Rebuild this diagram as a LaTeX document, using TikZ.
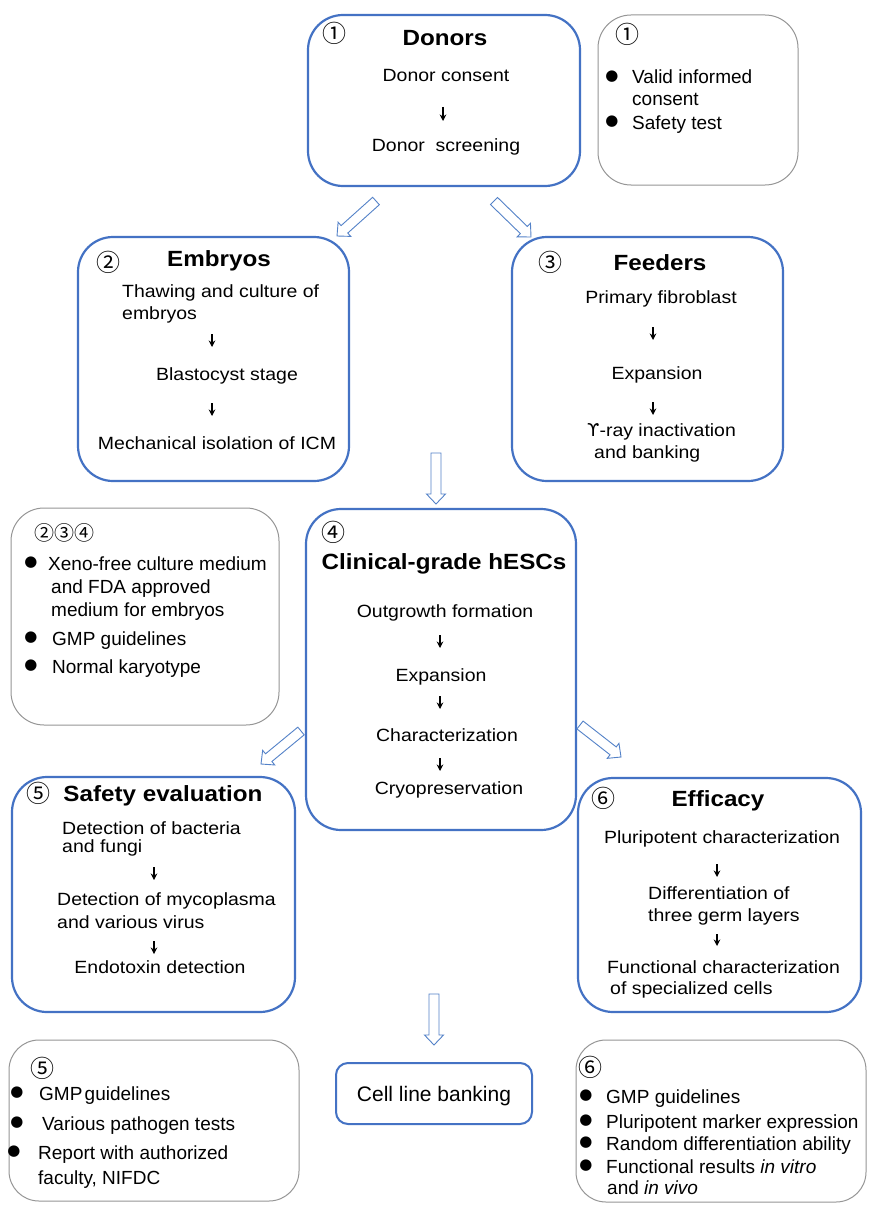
\documentclass[tikz,border=0pt]{standalone}
\usepackage{fontspec}
\setmainfont{Liberation Sans}
\newfontfamily\bx{Liberation Sans}[FakeStretch=1.1]
\newfontfamily\dv{DejaVu Sans}
\newfontfamily\cjk{Noto Sans CJK JP}
\usetikzlibrary{calc,arrows.meta}
\definecolor{boxblue}{RGB}{68,114,196}
\definecolor{arrblue}{RGB}{84,130,200}
\definecolor{notegray}{RGB}{150,150,150}
\tikzset{
 mainbox/.style={draw=boxblue, line width=2.2pt, rounded corners=35pt, inner sep=0pt},
 notebox/.style={draw=notegray, line width=1pt, rounded corners=33pt, inner sep=0pt},
 bankbox/.style={draw=boxblue, line width=2pt, rounded corners=12pt, inner sep=0pt},
 body/.style={font=\bx\fontsize{17.7}{20}\selectfont, inner sep=0pt},
 ttl/.style={font=\bx\bfseries\fontsize{22}{26}\selectfont, inner sep=0pt},
 note/.style={font=\fontsize{19}{22}\selectfont, inner sep=0pt},
 num/.style={font=\cjk\fontsize{24}{24}\selectfont, inner sep=0pt},
 bul/.style={font=\dv\fontsize{15}{15}\selectfont, inner sep=0pt},
 sarr/.style={line width=1.4pt, -{Stealth[length=6.5pt,width=6.5pt]}},
 hollow/.style={draw=arrblue, line width=0.9pt, fill=white, line join=miter},
}
\newcommand\harrow[3]{%
  \coordinate (#3h) at ($(#2)!10pt!(#1)$);
  \draw[hollow] ($(#1)!5pt!90:(#2)$) -- ($(#3h)!5pt!90:(#2)$) -- ($(#3h)!9.5pt!90:(#2)$)
    -- (#2) -- ($(#3h)!9.5pt!-90:(#2)$) -- ($(#3h)!5pt!-90:(#2)$) -- ($(#1)!5pt!-90:(#2)$) -- cycle;
}
\begin{document}
\begin{tikzpicture}[x=1pt,y=-1pt]
\useasboundingbox (0,0) rectangle (869,1212);
\fill[white] (0,0) rectangle (869,1212);

% boxes
\node[mainbox, minimum width=272pt, minimum height=171pt] (donors) at (444,100.5) {};
\node[notebox, minimum width=200pt, minimum height=170pt] (note1) at (698,100) {};
\node[mainbox, minimum width=271pt, minimum height=244pt] (embryos) at (213.5,359) {};
\node[mainbox, minimum width=271pt, minimum height=244pt] (feeders) at (647.5,359) {};
\node[notebox, minimum width=268pt, minimum height=217pt] (note234) at (145,616.5) {};
\node[mainbox, minimum width=270pt, minimum height=321pt] (hescs) at (441,669.5) {};
\node[mainbox, minimum width=283pt, minimum height=235pt] (safety) at (153.5,894.5) {};
\node[mainbox, minimum width=283pt, minimum height=234pt] (efficacy) at (719.5,895) {};
\node[notebox, rounded corners=30pt, minimum width=290pt, minimum height=161pt] (note5) at (154,1120.5) {};
\node[bankbox, minimum width=196pt, minimum height=61pt] (bank) at (434,1093.5) {};
\node[notebox, rounded corners=30pt, minimum width=290pt, minimum height=162pt] (note6) at (721,1121) {};

% Donors
\node[num] (n1) at (334,33) {①};
\node[ttl, anchor=base] (tdon) at (445,46) {Donors};
\node[body, anchor=base] (d1) at (446,82) {Donor consent};
\node[body, anchor=base] (d2) at (446,151) {Donor\ \ screening};
\coordinate (da1) at (443,107); \coordinate (db1) at (443,121);
\draw[sarr] (da1) -- (db1);

% Note 1
\node[num] (m1) at (627,34) {①};
\node[bul] (b11) at (612,77) {●};
\node[note, anchor=base west] (m11) at (632,84) {Valid informed};
\node[note, anchor=base west] (m12) at (632,106) {consent};
\node[bul] (b12) at (612,122) {●};
\node[note, anchor=base west] (m13) at (632,129) {Safety test};

% Embryos
\node[num] (n2) at (108,262) {②};
\node[ttl, anchor=base] (temb) at (219,266) {Embryos};
\node[body, anchor=base west] (e1) at (122,297) {Thawing and culture of};
\node[body, anchor=base west] (e2) at (122,319) {embryos};
\node[body, anchor=base] (e3) at (227,380) {Blastocyst stage};
\node[body, anchor=base] (e4) at (217,449) {Mechanical isolation of ICM};
\coordinate (ea1) at (212,334); \coordinate (eb1) at (212,347);
\coordinate (ea2) at (212,403); \coordinate (eb2) at (212,416);
\draw[sarr] (ea1) -- (eb1);
\draw[sarr] (ea2) -- (eb2);

% Feeders
\node[num] (n3) at (550,262) {③};
\node[ttl, anchor=base] (tfee) at (660,270) {Feeders};
\node[body, anchor=base] (f1) at (661,303) {Primary fibroblast};
\node[body, anchor=base] (f2) at (657,379) {Expansion};
\node[body, anchor=base west] (f3) at (587,436) {{\dv ϒ}-ray inactivation};
\node[body, anchor=base west] (f4) at (594,458) {and banking};
\coordinate (fa1) at (653,327); \coordinate (fb1) at (653,340);
\coordinate (fa2) at (653,402); \coordinate (fb2) at (653,415);
\draw[sarr] (fa1) -- (fb1);
\draw[sarr] (fa2) -- (fb2);

% Note 234
\node[num, font=\cjk\fontsize{20}{20}\selectfont] (m234) at (64,533) {②③④};
\node[bul] (b21) at (31,563) {●};
\node[note, anchor=base west] (p1) at (48,570) {Xeno-free culture medium};
\node[note, anchor=base west] (p2) at (51,593) {and FDA approved};
\node[note, anchor=base west] (p3) at (51,616) {medium for embryos};
\node[bul] (b22) at (31,638) {●};
\node[note, anchor=base west] (p4) at (52,645) {GMP guidelines};
\node[bul] (b23) at (31,666) {●};
\node[note, anchor=base west] (p5) at (52,673) {Normal karyotype};

% hESCs
\node[num] (n4) at (333,532) {④};
\node[ttl, anchor=base] (thes) at (444,569) {Clinical-grade hESCs};
\node[body, anchor=base] (h1) at (445,617) {Outgrowth formation};
\node[body, anchor=base] (h2) at (441,681) {Expansion};
\node[body, anchor=base] (h3) at (447,741) {Characterization};
\node[body, anchor=base] (h4) at (449,794) {Cryopreservation};
\coordinate (ha1) at (440,635); \coordinate (hb1) at (440,648);
\coordinate (ha2) at (440,696); \coordinate (hb2) at (440,709);
\coordinate (ha3) at (440,758); \coordinate (hb3) at (440,771);
\draw[sarr] (ha1) -- (hb1);
\draw[sarr] (ha2) -- (hb2);
\draw[sarr] (ha3) -- (hb3);

% Safety
\node[num] (n5) at (39,793) {⑤};
\node[ttl, anchor=base] (tsaf) at (163,801) {Safety evaluation};
\node[body, anchor=base west] (s1) at (62,834) {Detection of bacteria};
\node[body, anchor=base west] (s2) at (62,852) {and fungi};
\node[body, anchor=base west] (s3) at (57,905) {Detection of mycoplasma};
\node[body, anchor=base west] (s4) at (57,928) {and various virus};
\node[body, anchor=base] (s5) at (160,973) {Endotoxin detection};
\coordinate (sa1) at (154,867); \coordinate (sb1) at (154,880);
\coordinate (sa2) at (154,941); \coordinate (sb2) at (154,954);
\draw[sarr] (sa1) -- (sb1);
\draw[sarr] (sa2) -- (sb2);

% Efficacy
\node[num] (n6) at (603,798) {⑥};
\node[ttl, anchor=base] (teff) at (718,806) {Efficacy};
\node[body, anchor=base] (g1) at (722,843) {Pluripotent characterization};
\node[body, anchor=base west] (g2) at (648,899) {Differentiation of};
\node[body, anchor=base west] (g3) at (648,921) {three germ layers};
\node[body, anchor=base west] (g4) at (607,973) {Functional characterization};
\node[body, anchor=base west] (g5) at (610,994) {of specialized cells};
\coordinate (ga1) at (717,864); \coordinate (gb1) at (717,877);
\coordinate (ga2) at (717,934); \coordinate (gb2) at (717,946);
\draw[sarr] (ga1) -- (gb1);
\draw[sarr] (ga2) -- (gb2);

% Note 5
\node[num] (m5) at (42,1068) {⑤};
\node[bul] (b51) at (17,1093) {●};
\node[note, anchor=base west] (q1) at (39,1100) {GMP\hspace{0.12em}guidelines};
\node[bul] (b52) at (17,1123) {●};
\node[note, anchor=base west] (q2) at (42,1130) {Various pathogen tests};
\node[bul] (b53) at (14,1152) {●};
\node[note, anchor=base west] (q3) at (38,1159) {Report with authorized};
\node[note, anchor=base west] (q4) at (38,1184) {faculty, NIFDC};

% Bank
\node[font=\fontsize{21}{24}\selectfont, inner sep=0pt, anchor=base] (bankt) at (434,1101) {Cell line banking};

% Note 6
\node[num] (m6) at (590,1067) {⑥};
\node[bul] (b61) at (586,1096) {●};
\node[note, anchor=base west] (r1) at (606,1103) {GMP guidelines};
\node[bul] (b62) at (586,1121) {●};
\node[note, anchor=base west] (r2) at (606,1128) {Pluripotent marker expression};
\node[bul] (b63) at (586,1143) {●};
\node[note, anchor=base west] (r3) at (606,1150) {Random differentiation ability};
\node[bul] (b64) at (586,1166) {●};
\node[note, anchor=base west] (r4) at (606,1173) {Functional results \textit{in vitro}};
\node[note, anchor=base west] (r5) at (607,1194) {and \textit{in vivo}};

% hollow arrows
\coordinate (a1s) at (376,201); \coordinate (a1e) at (337,236);
\coordinate (a2s) at (494,201); \coordinate (a2e) at (531,237);
\coordinate (a3s) at (436,453); \coordinate (a3e) at (436,504);
\coordinate (a4s) at (301,731); \coordinate (a4e) at (261,764);
\coordinate (a5s) at (580,725); \coordinate (a5e) at (621,757);
\coordinate (a6s) at (434,994); \coordinate (a6e) at (434,1045);
\harrow{a1s}{a1e}{h1}
\harrow{a2s}{a2e}{h2}
\harrow{a3s}{a3e}{h3}
\harrow{a4s}{a4e}{h4}
\harrow{a5s}{a5e}{h5}
\harrow{a6s}{a6e}{h6}
\end{tikzpicture}
\end{document}
